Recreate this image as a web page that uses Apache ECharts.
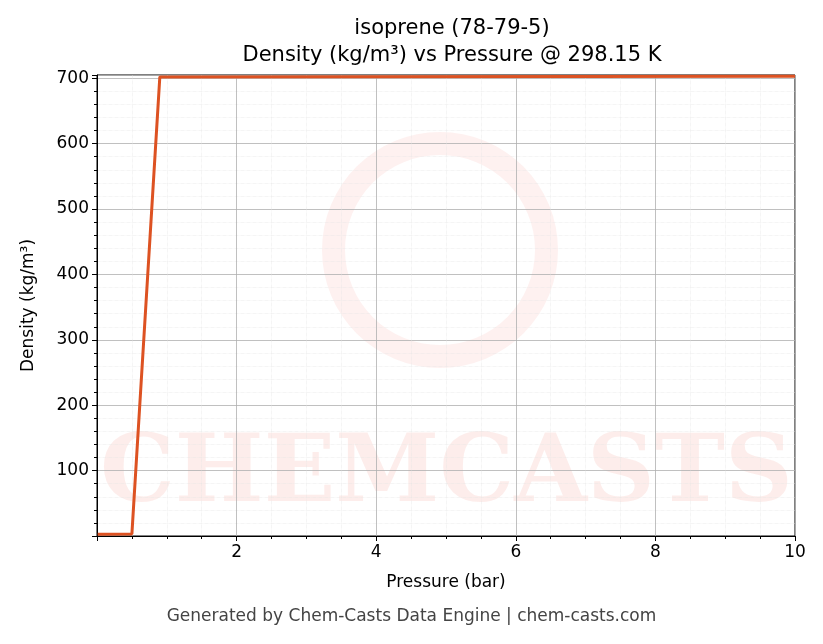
<!DOCTYPE html>
<html>
<head>
<meta charset="utf-8">
<script src="https://cdn.jsdelivr.net/npm/echarts@6/dist/echarts.min.js"></script>
<style>
  html, body { margin: 0; padding: 0; background: #fff; }
  #chart { width: 823px; height: 644px; }
</style>
</head>
<body>
<div id="chart"></div>
<script>
// values
var pressure = [0.01, 0.5, 0.9, 10];
var density = [2.5, 3.2, 702, 703];
var xTicks = [2, 4, 6, 8, 10];
var yTicks = [100, 200, 300, 400, 500, 600, 700];

var points = [];
for (var i = 0; i < pressure.length; i++) points.push([pressure[i], density[i]]);

var chart = echarts.init(document.getElementById('chart'));
var font = 'DejaVu Sans';
chart.setOption({
  animation: false,
  textStyle: { fontFamily: font },
  title: {
    text: 'isoprene (78-79-5)\nDensity (kg/m³) vs Pressure @ 298.15 K',
    left: 447, top: 10, textAlign: 'center',
    textStyle: { fontSize: 21, fontWeight: 'normal', color: '#000', lineHeight: 27, fontFamily: font }
  },
  graphic: [
    { type: 'text', left: 100, top: 430, z: 0,
      style: { text: 'CHEMCASTS', fontSize: 94, fontWeight: 'bold', fill: 'rgba(240,80,60,0.1)', fontFamily: 'DejaVu Serif' } },
    { type: 'ring', shape: { cx: 440, cy: 250, r: 118, r0: 95 }, z: 0,
      style: { fill: 'rgba(240,80,60,0.08)' } },
    { type: 'text', left: 'center', top: 608,
      style: { text: 'Generated by Chem-Casts Data Engine | chem-casts.com', fontSize: 17, fill: '#444', fontFamily: font } }
  ],
  grid: { left: 97, right: 28, top: 75, bottom: 108, show: true, borderColor: '#000', borderWidth: 1, backgroundColor: 'transparent' },
  xAxis: {
    type: 'value', min: 0, max: 10, interval: 2,
    name: 'Pressure (bar)', nameLocation: 'middle', nameGap: 38,
    nameTextStyle: { fontSize: 17, color: '#000' },
    axisLine: { lineStyle: { color: '#000' } },
    axisTick: { length: 5, lineStyle: { color: '#000' } },
    minorTick: { show: true, splitNumber: 4, length: 3, lineStyle: { color: '#000' } },
    axisLabel: { fontSize: 17, color: '#000', formatter: function (v) { return xTicks.indexOf(v) >= 0 ? String(v) : ''; } },
    splitLine: { show: true, lineStyle: { color: '#b0b0b0', width: 0.8 } },
    minorSplitLine: { show: true, lineStyle: { color: '#e4e4e4', width: 0.6, type: 'dotted' } }
  },
  yAxis: {
    type: 'value', min: 0, max: 705, interval: 100,
    name: 'Density (kg/m³)', nameLocation: 'middle', nameGap: 60, nameRotate: 90,
    nameTextStyle: { fontSize: 17, color: '#000' },
    axisLine: { lineStyle: { color: '#000' } },
    axisTick: { length: 5, lineStyle: { color: '#000' } },
    minorTick: { show: true, splitNumber: 5, length: 3, lineStyle: { color: '#000' } },
    axisLabel: { fontSize: 17, color: '#000', showMaxLabel: false, formatter: function (v) { return yTicks.indexOf(v) >= 0 ? String(v) : ''; } },
    splitLine: { show: true, lineStyle: { color: '#b0b0b0', width: 0.8 } },
    minorSplitLine: { show: true, lineStyle: { color: '#e4e4e4', width: 0.6, type: 'dotted' } }
  },
  series: [{
    type: 'line', data: points, showSymbol: false, z: 5,
    lineStyle: { color: '#dd5222', width: 3 }
  }]
});
</script>
</body>
</html>
